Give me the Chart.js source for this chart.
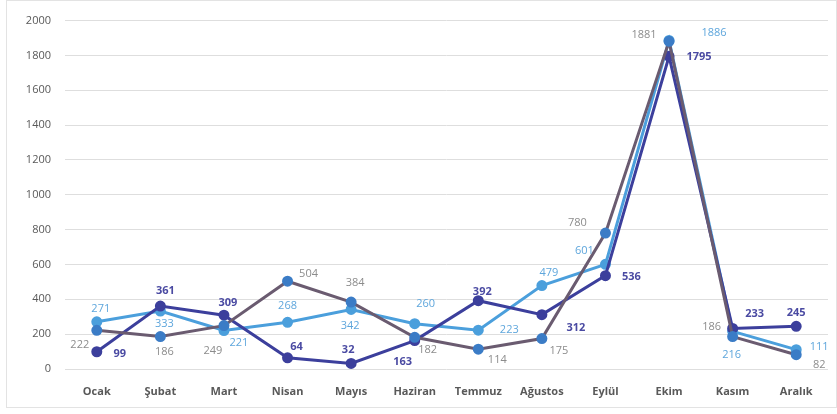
<!DOCTYPE html>
<html>
<head>
<meta charset="utf-8">
<script src="https://cdn.jsdelivr.net/npm/chart.js@4"></script>
<style>
  html, body { margin: 0; padding: 0; background: #fff; }
  .frame { position: absolute; left: 6px; top: 0; width: 829px; height: 406px; border: 1px solid #e3e3e3; }
  .wrap { position: absolute; left: 0; top: 0; width: 837px; height: 414px; }
</style>
</head>
<body>
<div class="frame"></div>
<div class="wrap"><canvas id="chart" width="837" height="414"></canvas></div>
<script>
// -------------------------------
// Data
// -------------------------------
const months = ['Ocak', 'Şubat', 'Mart', 'Nisan', 'Mayıs', 'Haziran', 'Temmuz', 'Ağustos', 'Eylül', 'Ekim', 'Kasım', 'Aralık'];
const darkSeries = [99, 361, 309, 64, 32, 163, 392, 312, 536, 1795, 233, 245];
const graySeries = [222, 186, 249, 504, 384, 182, 114, 175, 780, 1881, 186, 82];
const lightSeries = [271, 333, 221, 268, 342, 260, 223, 479, 601, 1886, 216, 111];
const yTicks = [0, 200, 400, 600, 800, 1000, 1200, 1400, 1600, 1800, 2000];

// label placement (offset from point, px)
const darkLabelPos = [[23,2],[5,-15],[4,-12],[9,-11],[-3,-14],[-12,21],[4,-9],[34,13],[26,1],[30,1],[22,-15],[0,-13]];
const grayLabelPos = [[-17,15],[4,15],[-11,25],[21,-7],[4,-19],[13,13],[19,11],[17,12],[-28,-10],[-25,-6],[-21,-10],[23,10]];
const lightLabelPos = [[4,-13],[4,13],[15,12],[0,-16],[-1,16],[11,-20],[31,0],[7,-13],[-21,-13],[45,-8],[-1,23],[23,-3]];

// -------------------------------
// Data labels plugin
// -------------------------------
const labelPlugin = {
  id: 'pointLabels',
  afterDatasetsDraw(chart) {
    const ctx = chart.ctx;
    ctx.save();
    ctx.textAlign = 'center';
    ctx.textBaseline = 'middle';
    chart.data.datasets.forEach((ds, i) => {
      const meta = chart.getDatasetMeta(i);
      ctx.fillStyle = ds.labelColor;
      ctx.font = ds.labelFont;
      meta.data.forEach((pt, j) => {
        const off = ds.labelPos[j];
        ctx.fillText(String(ds.data[j]), pt.x + off[0], pt.y + off[1]);
      });
    });
    ctx.restore();
  }
};

// -------------------------------
// Chart.js
// -------------------------------
new Chart(document.getElementById('chart'), {
  type: 'line',
  data: {
    labels: months,
    datasets: [
      {
        label: 'Seri 2',
        data: graySeries,
        borderColor: '#6a5b70',
        backgroundColor: '#3b7cc6',
        pointBackgroundColor: '#3b7cc6',
        pointBorderColor: '#3b7cc6',
        borderWidth: 3,
        pointRadius: 4,
        tension: 0,
        labelColor: '#8c8c8c',
        labelFont: '11px "Open Sans", sans-serif',
        labelPos: grayLabelPos
      },
      {
        label: 'Seri 1',
        data: darkSeries,
        borderColor: '#3c3f9c',
        backgroundColor: '#3c3f9c',
        pointBackgroundColor: '#3c3f9c',
        pointBorderColor: '#3c3f9c',
        borderWidth: 3,
        pointRadius: 4,
        tension: 0,
        labelColor: '#4a4aa2',
        labelFont: 'bold 11px "Open Sans", sans-serif',
        labelPos: darkLabelPos
      },
      {
        label: 'Seri 3',
        data: lightSeries,
        borderColor: '#4b9fdc',
        backgroundColor: '#4b9fdc',
        pointBackgroundColor: '#4b9fdc',
        pointBorderColor: '#4b9fdc',
        borderWidth: 3,
        pointRadius: 4,
        tension: 0,
        labelColor: '#5ea6dc',
        labelFont: '11px "Open Sans", sans-serif',
        labelPos: lightLabelPos
      }
    ]
  },
  options: {
    responsive: false,
    animation: false,
    layout: { padding: { left: 6, right: 9, top: 12, bottom: 4 } },
    plugins: { legend: { display: false }, tooltip: { enabled: false } },
    scales: {
      x: {
        offset: true,
        grid: { display: false },
        border: { display: false },
        ticks: {
          color: '#595959',
          font: { family: 'Open Sans', size: 11, weight: 'bold' },
          padding: 8,
          maxRotation: 0
        },
        afterFit: s => { s.height = 41; }
      },
      y: {
        min: 0,
        max: 2000,
        afterBuildTicks: s => { s.ticks = yTicks.map(v => ({ value: v })); },
        grid: { color: '#dedede', lineWidth: 1, drawTicks: false },
        border: { display: false },
        ticks: {
          color: '#595959',
          font: { family: 'Open Sans', size: 11 },
          padding: 14,
          callback: v => String(v)
        },
        afterFit: s => { s.width = 59; }
      }
    }
  },
  plugins: [labelPlugin]
});
</script>
</body>
</html>
